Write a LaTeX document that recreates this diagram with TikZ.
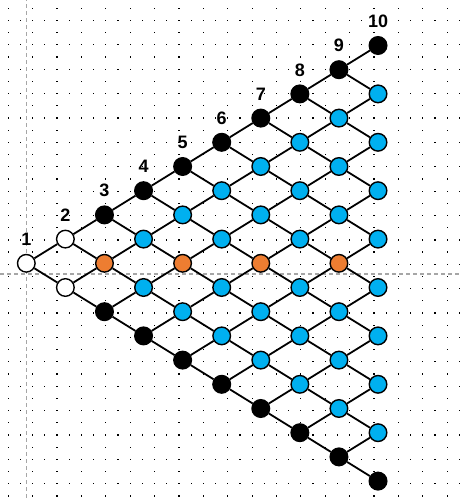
\documentclass[tikz,border=0pt]{standalone}
\usepackage{fontspec}
\setsansfont{Liberation Sans}
\usepackage{tikz}
\usetikzlibrary{positioning}
\newcommand{\pasx}{39.08}
\newcommand{\pasy}{24.2}
\newcommand{\xo}{26.3}
\newcommand{\yo}{234.7}
\definecolor{bleuppt}{RGB}{0,176,240}
\definecolor{orangeppt}{RGB}{237,125,49}
\tikzstyle{noeud}=[circle, draw=black, line width=1.4pt, minimum size=17.6pt, inner sep=0]
\tikzstyle{arete}=[line width=1.8pt]
\tikzstyle{etiquette}=[font=\sffamily\bfseries\fontsize{18}{20}\selectfont, inner sep=0]
\tikzstyle{repere}=[gray!70, line width=1.2pt, dash pattern=on 4pt off 3pt]
\tikzstyle{point}=[fill=black]
\begin{document}
\begin{tikzpicture}[x=1pt,y=1pt]
\fill[white] (0,0) rectangle (460,498);
\useasboundingbox (0,0) rectangle (460,498);

%grille
\foreach \m in {0,...,19}
\foreach \i in {0,...,37}
\fill[point] ({8.3+12.19*\i-0.6},{489.7-12.19*(2*\m+1)-0.6}) rectangle ++(1.2,1.2);
\foreach \m in {0,...,20}
\foreach \n in {0,...,18}
\fill[point] ({8.3+24.38*\n-0.6},{489.7-24.38*\m-0.6}) rectangle ++(1.2,1.2);
\draw[repere] (26.5,0) -- (26.5,498);
\draw[repere] (0,224) -- (460,224);

%noeuds
\foreach \k [evaluate=\k as \km using int(\k-1)] in {1,...,10}
{\foreach \j in {0,...,\km}
{\def\coul{bleuppt}
\ifnum\j=0 \def\coul{black}\fi
\ifnum\j=\km \def\coul{black}\fi
\ifnum\k<3 \def\coul{white}\fi
\ifnum\numexpr2*\j\relax=\km\relax \ifodd\k\relax \ifnum\k>2 \def\coul{orangeppt}\fi\fi\fi
\node[noeud, fill=\coul] (n\k-\j) at ({\xo+\km*\pasx},{\yo+(\km-2*\j)*\pasy}) {};
}
\node[etiquette, above=8pt of n\k-0] (e\k) {\k};
}

%aretes
\foreach \k [evaluate=\k as \ks using int(\k+1), evaluate=\k as \km using int(\k-1)] in {1,...,9}
{\foreach \j [evaluate=\j as \js using int(\j+1)] in {0,...,\km}
{\draw[arete] (n\k-\j) -- (n\ks-\j);
\draw[arete] (n\k-\j) -- (n\ks-\js);
}}
\end{tikzpicture}
\end{document}
